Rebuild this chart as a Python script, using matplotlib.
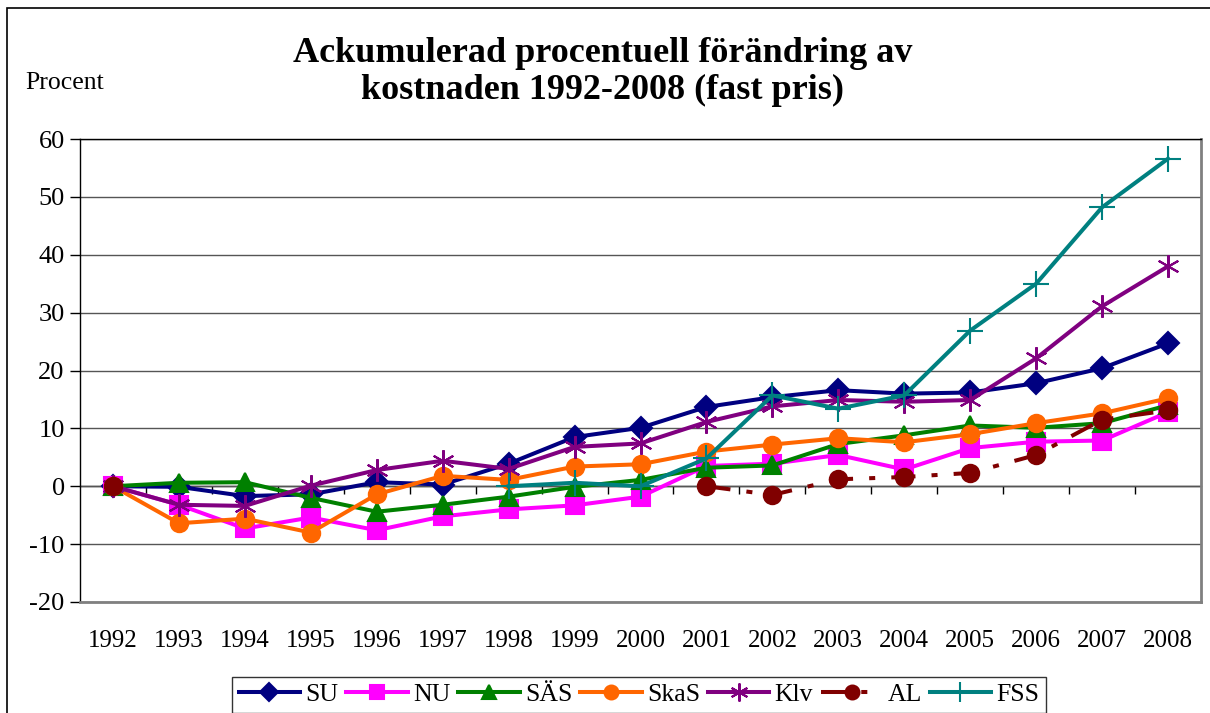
#!/usr/bin/env python3

import numpy as np
import matplotlib
matplotlib.use("Agg")
import matplotlib.pyplot as plt
from matplotlib.patches import Rectangle

nan = np.nan

years = [str(y) for y in range(1992, 2009)]

SU = [0, -0.1, -1.7, -1.4, 0.7, 0.3, 3.9, 8.5, 10.1, 13.7, 15.4, 16.6, 16.0, 16.2, 17.8, 20.4, 24.7]
NU = [0, -3.2, -7.3, -5.4, -7.6, -5.2, -4.0, -3.3, -1.8, 3.5, 3.9, 5.4, 2.9, 6.6, 7.7, 7.9, 12.8]
SAS = [0, 0.6, 0.7, -2.0, -4.4, -3.2, -1.8, -0.1, 1.1, 3.2, 3.6, 7.3, 8.8, 10.5, 10.1, 10.9, 14.0]
SkaS = [0, -6.4, -5.6, -8.0, -1.4, 1.8, 1.1, 3.4, 3.8, 6.0, 7.2, 8.3, 7.6, 9.0, 10.9, 12.6, 15.2]
Klv = [0, -3.2, -3.4, 0.1, 2.8, 4.4, 3.0, 6.8, 7.4, 11.1, 13.8, 14.9, 14.6, 14.9, 22.1, 31.1, 38.0]
AL = [0, nan, nan, nan, nan, nan, nan, nan, nan, 0.0, -1.5, 1.2, 1.6, 2.3, 5.4, 11.5, 13.1]
FSS = [nan, nan, nan, nan, nan, nan, 0.0, 0.6, 0.0, 4.8, 15.7, 13.4, 15.7, 26.9, 35.0, 48.2, 56.6]

plt.rcParams['font.family'] = ['Liberation Serif', 'DejaVu Serif']
plt.rcParams['axes.unicode_minus'] = False

fig = plt.figure(figsize=(12.1, 7.13), dpi=100)
fig.patches.append(Rectangle((7/1210, -0.1), 1.2, 1 - 8/713 + 0.1, transform=fig.transFigure,
                             fill=False, edgecolor='black', linewidth=1.2))

ax = fig.add_axes([80/1210, 1 - 602/713, 1121/1210, 463/713])
x = np.arange(len(years))

lw = 2.9
ms = 12.5
series = [
    ("SU", SU, '#000080', 'D', '-', ms * 0.9),
    ("NU", NU, '#FF00FF', 's', '-', ms),
    ("SÄS", SAS, '#008000', '^', '-', ms),
    ("SkaS", SkaS, '#FF6600', 'o', '-', ms),
    ("Klv", Klv, '#800080', (6, 2, 0), '-', ms * 1.3),
    ("AL", AL, '#800000', 'o', (0, (6, 4, 1.5, 4)), ms),
    ("FSS", FSS, '#008080', '+', '-', ms * 1.5),
]
for name, vals, col, mk, ls, size in series:
    ax.plot(x, vals, color=col, lw=lw, ls=ls, marker=mk, markersize=size,
            markeredgecolor=col, markerfacecolor=col, markeredgewidth=1.5, label=name)

ax.set_xlim(-0.5, len(years) - 0.5)
ax.set_ylim(-20, 60)
ax.set_yticks(range(-20, 61, 10))
ax.yaxis.grid(True, color='#555555', lw=1)
ax.set_axisbelow(True)
ax.set_xticks(x)
ax.set_xticklabels(years)
ax.tick_params(axis='x', length=0, pad=20, labelsize=18)
ax.tick_params(axis='y', length=7, direction='out', width=1, labelsize=19, pad=4)

for s in ['top', 'left']:
    ax.spines[s].set_color('black')
    ax.spines[s].set_linewidth(1)
for s in ['right', 'bottom']:
    ax.spines[s].set_color('#808080')
    ax.spines[s].set_linewidth(2)

# category axis through zero with ticks between categories
zero_ax = ax.secondary_xaxis(0.25)
zero_ax.set_xticks(x[:-1] + 0.5)
zero_ax.set_xticklabels([])
zero_ax.tick_params(length=6, direction='out', width=1, color='black')
zero_ax.spines['bottom'].set_color('black')
zero_ax.spines['bottom'].set_linewidth(1)

fig.text(0.498, 1 - 72/713, "Ackumulerad procentuell förändring av\nkostnaden 1992-2008 (fast pris)",
         ha='center', va='center', fontsize=26, fontweight='bold', linespacing=1.15)
fig.text(25/1210, 1 - 83/713, "Procent", ha='left', va='center', fontsize=18.5)

leg = fig.legend(loc='upper center', bbox_to_anchor=(639/1210, 1 - 677/713), ncol=7,
                 fontsize=18.5, frameon=True, fancybox=False, edgecolor='black',
                 handlelength=2.4, handletextpad=0.2, columnspacing=0.3,
                 borderpad=0.25, borderaxespad=0, markerscale=0.8)
leg.get_frame().set_linewidth(1)

fig.savefig("out.png", dpi=100)
